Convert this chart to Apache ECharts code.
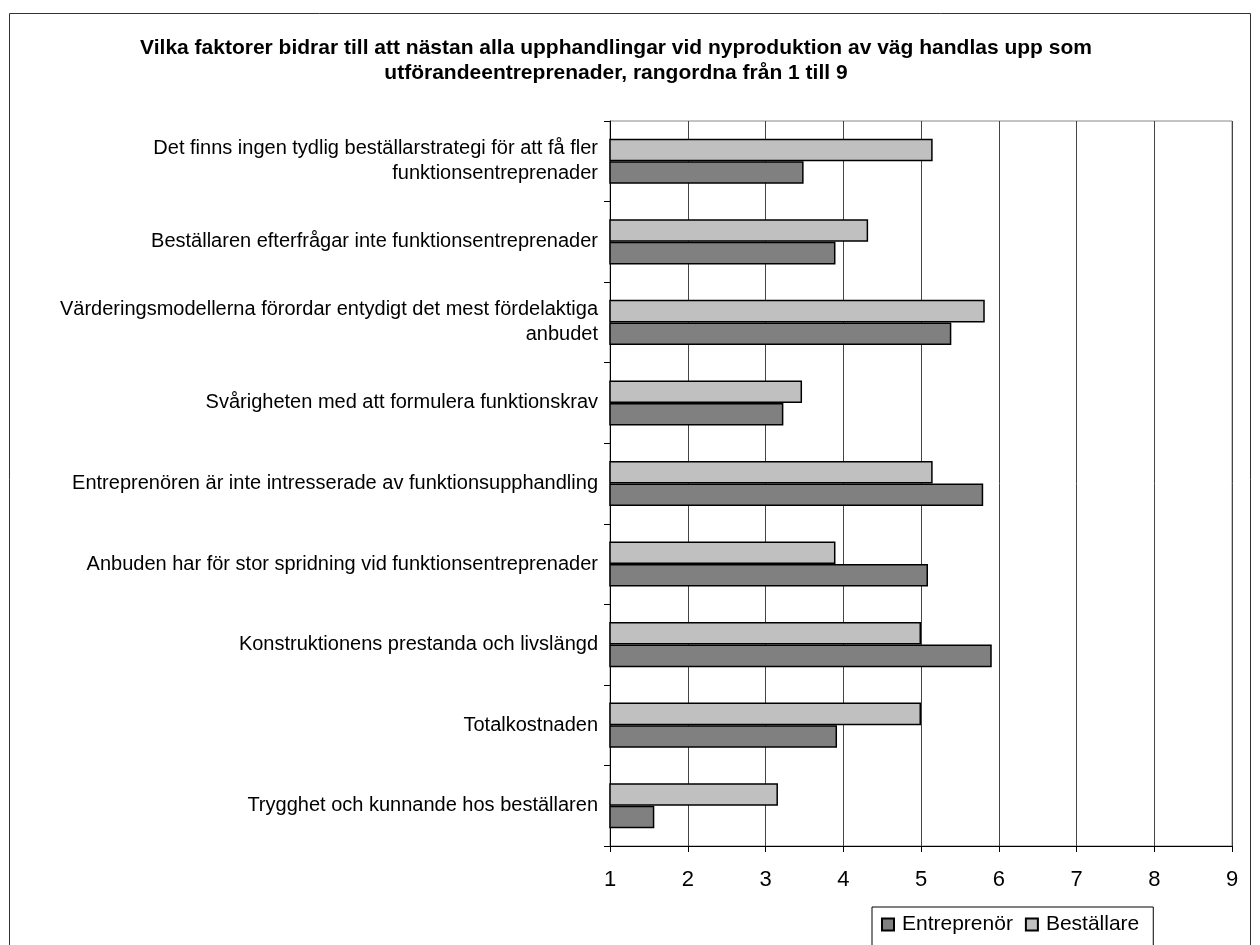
<!DOCTYPE html>
<html>
<head>
<meta charset="utf-8">
<script src="https://cdn.jsdelivr.net/npm/echarts@6/dist/echarts.min.js"></script>
<style>
  html, body { margin: 0; padding: 0; background: #fff; }
  #chart { width: 1260px; height: 945px; }
</style>
</head>
<body>
<div id="chart"></div>
<script>
// kategorier (uppifrån och ned)
const categories = [
  'Det finns ingen tydlig beställarstrategi för att få fler\nfunktionsentreprenader',
  'Beställaren efterfrågar inte funktionsentreprenader',
  'Värderingsmodellerna förordar entydigt det mest fördelaktiga\nanbudet',
  'Svårigheten med att formulera funktionskrav',
  'Entreprenören är inte intresserade av funktionsupphandling',
  'Anbuden har för stor spridning vid funktionsentreprenader',
  'Konstruktionens prestanda och livslängd',
  'Totalkostnaden',
  'Trygghet och kunnande hos beställaren'
]
const bestallare = [5.15, 4.32, 5.82, 3.47, 5.15, 3.90, 5.00, 5.00, 3.16]
const entreprenor = [3.49, 3.90, 5.39, 3.23, 5.80, 5.09, 5.91, 3.92, 1.57]
const xTicks = [1, 2, 3, 4, 5, 6, 7, 8, 9]

const chart = echarts.init(document.getElementById('chart'))
const font = '"Liberation Sans", Arial, sans-serif'

chart.setOption({
  animation: false,
  textStyle: { fontFamily: font },
  title: {
    text: 'Vilka faktorer bidrar till att nästan alla upphandlingar vid nyproduktion av väg handlas upp som\nutförandeentreprenader, rangordna från 1 till 9',
    left: 611,
    top: 31,
    textAlign: 'center',
    textStyle: { fontSize: 21, fontWeight: 'bold', color: '#000', lineHeight: 25, fontFamily: font }
  },
  graphic: [{
    type: 'rect',
    shape: { x: 9.5, y: 13.5, width: 1241, height: 1000 },
    style: { fill: 'none', stroke: '#333', lineWidth: 1 },
    silent: true
  }],
  legend: {
    data: ['Entreprenör', 'Beställare'],
    left: 872,
    top: 907,
    orient: 'horizontal',
    itemWidth: 12,
    itemHeight: 12,
    itemGap: 12,
    padding: [7, 14, 20, 9],
    borderColor: '#000',
    borderWidth: 1,
    icon: 'rect',
    textStyle: { fontSize: 21, color: '#000', fontFamily: font, padding: [0, 0, 0, 3] }
  },
  grid: { left: 610, right: 28, top: 121, bottom: 99, show: true, borderColor: '#888', borderWidth: 1 },
  xAxis: {
    type: 'value',
    min: 1,
    max: 9,
    interval: 1,
    axisLine: { show: true, lineStyle: { color: '#000', width: 1 } },
    axisTick: { show: true, length: 6, lineStyle: { color: '#000' } },
    splitLine: { show: true, lineStyle: { color: '#444', width: 1 } },
    axisLabel: {
      fontSize: 22, color: '#000', margin: 23,
      formatter: v => xTicks.includes(v) ? String(v) : ''
    }
  },
  yAxis: {
    type: 'category',
    inverse: true,
    data: categories,
    axisLine: { show: true, lineStyle: { color: '#000', width: 1 } },
    axisTick: { show: true, length: 6, lineStyle: { color: '#000' } },
    axisLabel: { fontSize: 20, color: '#000', margin: 12, lineHeight: 25, align: 'right' }
  },
  series: [
    {
      name: 'Beställare',
      type: 'bar',
      data: bestallare,
      barGap: '0%',
      barCategoryGap: '44%',
      itemStyle: { color: '#c0c0c0', borderColor: '#000', borderWidth: 1.5 }
    },
    {
      name: 'Entreprenör',
      type: 'bar',
      data: entreprenor,
      barGap: '0%',
      barCategoryGap: '44%',
      itemStyle: { color: '#808080', borderColor: '#000', borderWidth: 1.5 }
    }
  ]
})
</script>
</body>
</html>
